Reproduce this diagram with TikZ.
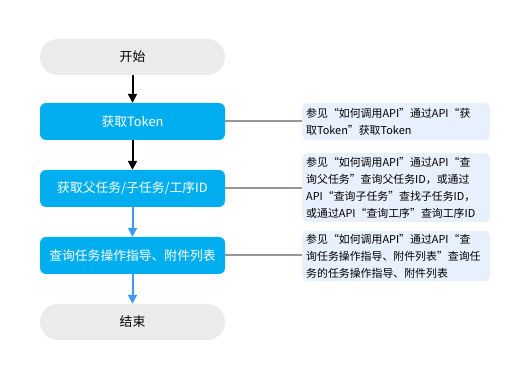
\documentclass[tikz,border=0pt]{standalone}
\usepackage{fontspec}
\setmainfont{Noto Sans CJK SC}
\usetikzlibrary{arrows.meta}
\definecolor{boxblue}{RGB}{0,174,239}
\definecolor{pillgray}{RGB}{235,235,235}
\definecolor{notefill}{RGB}{232,240,254}
\definecolor{arrowblue}{RGB}{60,155,245}
\definecolor{linegray}{RGB}{150,150,150}
\tikzset{
  pill/.style={draw=none,fill=pillgray,rounded corners=18pt,minimum width=185pt,minimum height=36pt,font=\fontsize{12.8}{14}\selectfont,text=black},
  stepbox/.style={draw=none,fill=boxblue,rounded corners=6pt,minimum width=185pt,minimum height=37pt,font=\fontsize{12.8}{14}\selectfont,text=white},
  note/.style={draw=none,fill=notefill,rounded corners=6pt,minimum width=185pt,inner xsep=4pt,inner ysep=3pt,align=left,text width=180pt,font=\fontsize{10.9}{17}\selectfont,text=black,anchor=west},
  blackarrow/.style={draw=black,line width=2pt,-{Triangle[width=9pt,length=9pt]}},
  bluearrow/.style={draw=arrowblue,line width=2pt,-{Triangle[width=9pt,length=9pt]}},
  notelink/.style={draw=linegray,line width=2pt}
}
\begin{document}
\begin{tikzpicture}[x=1pt,y=-1pt]
\useasboundingbox (0,0) rectangle (525,379);
\node[pill] (start) at (132.5,57) {开始};
\node[stepbox] (token) at (132.5,121.5) {获取Token};
\node[stepbox] (ids) at (132.5,188.5) {获取父任务/子任务/工序ID};
\node[stepbox] (query) at (132.5,255.5) {查询任务操作指导、附件列表};
\node[pill] (end) at (132.5,322) {结束};
\node[note,minimum height=37pt] (n1) at (302,121.5) {参见“如何调用API”通过API“获\\取Token”获取Token};
\node[note,minimum height=69pt] (n2) at (302,187.5) {参见“如何调用API”通过API“查\\询父任务”查询父任务ID，或通过\\API“查询子任务”查找子任务ID，\\或通过API“查询工序”查询工序ID};
\node[note,minimum height=49pt] (n3) at (302,256) {参见“如何调用API”通过API“查\\询任务操作指导、附件列表”查询任\\务的任务操作指导、附件列表};
\draw[blackarrow] (start) -- (token);
\draw[blackarrow] (token) -- (ids);
\draw[bluearrow] (ids) -- (query);
\draw[bluearrow] (query) -- (end);
\draw[notelink] (token.east) -- (token.east -| n1.west);
\draw[notelink] (ids.east) -- (ids.east -| n2.west);
\draw[notelink] (query.east) -- (query.east -| n3.west);
\end{tikzpicture}
\end{document}
